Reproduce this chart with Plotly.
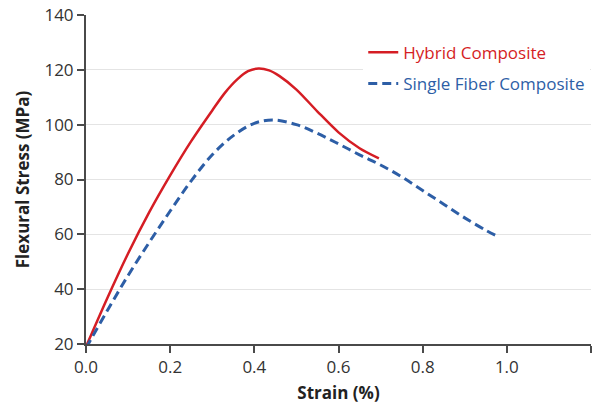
import plotly.graph_objects as go

# Data
hybrid_strain = [0.0, 0.05, 0.1, 0.15, 0.2, 0.25, 0.3, 0.33, 0.36, 0.385, 0.41, 0.435, 0.46, 0.5, 0.55, 0.6, 0.65, 0.696]
hybrid_stress = [19.0, 36.5, 53.0, 68.0, 81.5, 94.0, 105.2, 111.6, 116.6, 119.5, 120.5, 119.8, 117.7, 112.8, 104.8, 97.2, 91.4, 87.7]

single_strain = [0.0, 0.05, 0.1, 0.15, 0.2, 0.25, 0.3, 0.35, 0.4, 0.445, 0.5, 0.55, 0.6, 0.65, 0.7, 0.75, 0.8, 0.85, 0.9, 0.95, 0.975]
single_stress = [18.5, 32.0, 45.0, 57.0, 68.5, 79.5, 89.0, 96.0, 100.5, 101.7, 100.0, 96.8, 93.0, 89.0, 85.3, 81.0, 76.0, 71.0, 66.0, 61.5, 59.5]

series_names = ["Hybrid Composite", "Single Fiber Composite"]
x_ticks = [0.0, 0.2, 0.4, 0.6, 0.8, 1.0, 1.2]
y_ticks = [20, 40, 60, 80, 100, 120, 140]

RED = "#d51d24"
BLUE = "#2d5ea6"
FONT = "Open Sans"

fig = go.Figure()
fig.add_trace(go.Scatter(
    x=hybrid_strain, y=hybrid_stress, mode="lines",
    line=dict(color=RED, width=2.5, shape="spline", smoothing=0.8),
    name=f"<span style='color:{RED}'>{series_names[0]}</span>",
    legendgroup="a",
))
fig.add_trace(go.Scatter(
    x=single_strain, y=single_stress, mode="lines",
    line=dict(color=BLUE, width=3, dash="9px,5px", shape="spline", smoothing=1.0),
    name=f"<span style='color:{BLUE}'>{series_names[1]}</span>",
    legendgroup="b",
))

fig.update_layout(
    width=602, height=408,
    margin=dict(l=86, r=11, t=15, b=64),
    paper_bgcolor="white", plot_bgcolor="white",
    font=dict(family=FONT, size=17, color="#333333"),
    showlegend=True,
    legend=dict(
        x=0.549, y=0.94, xanchor="left", yanchor="top",
        bgcolor="white", borderwidth=0,
        font=dict(family=FONT, size=17),
        itemwidth=30,
        traceorder="grouped",
        tracegroupgap=6,
    ),
    xaxis=dict(
        range=[0, 1.2], tickvals=x_ticks, ticktext=[f"{v:.1f}" for v in x_ticks],
        showgrid=False, zeroline=False,
        showline=True, linecolor="#4a4a4a", linewidth=2,
        ticks="outside", ticklen=7, tickwidth=2, tickcolor="#4a4a4a",
        tickfont=dict(size=17, color="#333333"),
        title=dict(text="<b>Strain (%)</b>", font=dict(size=17, color="#222222"), standoff=10),
        automargin=False,
    ),
    yaxis=dict(
        range=[20, 140], tickvals=y_ticks,
        showgrid=True, gridcolor="#e4e4e4", gridwidth=1, zeroline=False,
        showline=True, linecolor="#4a4a4a", linewidth=2,
        ticks="outside", ticklen=7, tickwidth=2, tickcolor="#4a4a4a",
        tickfont=dict(size=17, color="#333333"),
        title=dict(text="<b>Flexural Stress (MPa)</b>", font=dict(size=17, color="#222222"), standoff=10),
        automargin=False,
    ),
)

fig.write_html("out.html")
